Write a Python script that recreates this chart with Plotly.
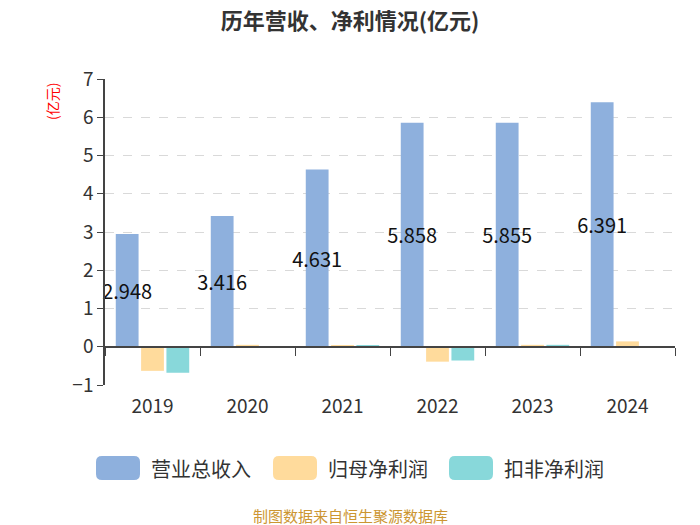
import plotly.graph_objects as go

years = ["2019", "2020", "2021", "2022", "2023", "2024"]
revenue = [2.948, 3.416, 4.631, 5.858, 5.855, 6.391]
net_profit = [-0.63, 0.05, 0.04, -0.39, 0.05, 0.14]
deducted_profit = [-0.68, -0.01, 0.04, -0.36, 0.05, 0.0]
series_names = ["营业总收入", "归母净利润", "扣非净利润"]
colors = ["#8eb0dd", "#ffdb9c", "#88d8da"]
y_ticks = [-1, 0, 1, 2, 3, 4, 5, 6, 7]

FONT = "Noto Sans CJK SC"
W, H = 700, 525
L, R, T, B = 105, 25, 79, 140
PW, PH = W - L - R, H - T - B

def px_x(x):
    return (x - L) / PW

def px_y(y):
    return (H - B - y) / PH

fig = go.Figure()
for name, vals, col in zip(series_names, [revenue, net_profit, deducted_profit], colors):
    kw = {}
    if name == series_names[0]:
        kw = dict(text=[f"{v:.3f}" for v in vals], textposition="inside", textangle=0,
                  insidetextanchor="middle", constraintext="none",
                  textfont=dict(family=FONT, size=20, color="#111"))
    fig.add_trace(go.Bar(x=years, y=vals, name=name, marker=dict(color=col, line=dict(width=0)),
                         showlegend=False, cliponaxis=False, **kw))

# axis line at zero with boundary ticks
fig.add_trace(go.Scatter(x=years, y=[None]*len(years), xaxis="x2", showlegend=False, hoverinfo="skip"))

fig.update_layout(
    width=W, height=H,
    margin=dict(l=L, r=R, t=T, b=B),
    plot_bgcolor="white", paper_bgcolor="white",
    bargap=0.2, bargroupgap=0.1,
    font=dict(family=FONT, color="#333"),
    title=dict(text="<b>历年营收、净利情况(亿元)</b>", x=0.5, xanchor="center", y=1 - 21 / H,
               yanchor="middle", font=dict(family=FONT, size=22, color="#333")),
    xaxis=dict(type="category", showline=False, ticks="", showgrid=False, ticklabelstandoff=8,
               tickfont=dict(family=FONT, size=19, color="#333"), range=[-0.5, 5.5]),
    xaxis2=dict(type="category", overlaying="x", anchor="free", position=0.125,
                showline=True, linecolor="#444", linewidth=1.5, ticks="outside", ticklen=8,
                tickcolor="#444", tickson="boundaries", showticklabels=False, showgrid=False,
                range=[-0.5, 5.5], side="bottom", categoryarray=years, categoryorder="array"),
    yaxis=dict(range=[-1, 7], tickvals=y_ticks, showline=True, linecolor="#444", linewidth=1.5,
               ticks="outside", ticklen=6, tickcolor="#444",
               showgrid=True, gridcolor="#d9d9d9", griddash="dash", gridwidth=1,
               zeroline=False, tickfont=dict(family=FONT, size=19, color="#333")),
)

annotations = [
    dict(text="(亿元)", xref="paper", yref="paper", x=px_x(52), y=px_y(102), textangle=-90,
         xanchor="center", yanchor="middle",
         showarrow=False, font=dict(family=FONT, size=14, color="red")),
    dict(text="制图数据来自恒生聚源数据库", xref="paper", yref="paper", x=px_x(350),
         y=px_y(515), xanchor="center", yanchor="middle",
         showarrow=False, font=dict(family=FONT, size=15, color="#cc9632")),
]

shapes = []
legend_x = [96, 273, 449]
for name, col, lx in zip(series_names, colors, legend_x):
    x0, x1, y0, y1, r = lx, lx + 44, 456, 480, 6
    def P(x, y):
        return f"{px_x(x):.5f},{px_y(y):.5f}"
    path = (f"M {P(x0 + r, y0)} L {P(x1 - r, y0)} Q {P(x1, y0)} {P(x1, y0 + r)} "
            f"L {P(x1, y1 - r)} Q {P(x1, y1)} {P(x1 - r, y1)} L {P(x0 + r, y1)} "
            f"Q {P(x0, y1)} {P(x0, y1 - r)} L {P(x0, y0 + r)} Q {P(x0, y0)} {P(x0 + r, y0)} Z")
    shapes.append(dict(type="path", path=path, xref="paper", yref="paper",
                       fillcolor=col, line=dict(width=0)))
    annotations.append(dict(text=name, xref="paper", yref="paper", x=px_x(lx + 53), y=px_y(468),
                            xanchor="left", yanchor="middle", showarrow=False,
                            font=dict(family=FONT, size=20, color="#333")))

fig.update_layout(annotations=annotations, shapes=shapes)
fig.write_html("out.html", config={"displayModeBar": False},
               post_script="document.body.style.margin='0';document.body.style.overflow='hidden';")
